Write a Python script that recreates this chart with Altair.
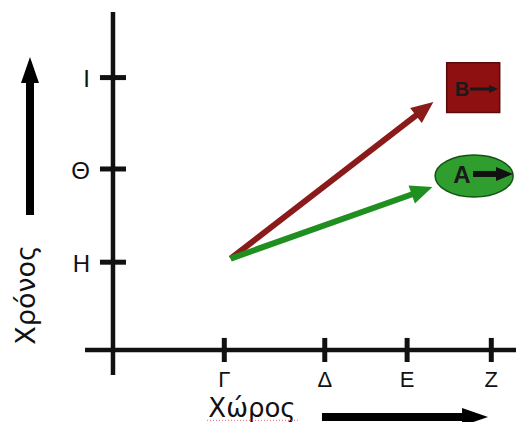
import math
import altair as alt
import pandas as pd

# ---------------- data ----------------
x_tick_labels = ["Γ", "Δ", "Ε", "Ζ"]
x_tick_values = [1.23, 2.34, 3.25, 4.18]
y_tick_labels = ["Η", "Θ", "Ι"]
y_tick_values = [0.97, 2.0, 3.01]

arrow_names = ["B", "A"]
arrow_start_x = [1.30, 1.30]
arrow_start_y = [1.01, 1.01]
arrow_end_x = [3.54, 3.53]
arrow_end_y = [2.74, 1.80]
arrow_colors = ["#8b1a1a", "#1f8f1f"]

marker_x = [3.98, 3.99]
marker_y = [2.90, 1.923]
marker_fill = ["#8e1010", "#2f9e2f"]
marker_stroke = ["#5a0a0a", "#145214"]

x_title = "Χώρος"
y_title = "Χρόνος"

# ---------------- scales ----------------
PX = 90.5  # pixels per data unit
X_DOM = [-1.160, 4.453]
Y_DOM = [-0.796, 3.779]
W, H = 508, 414

xs = alt.Scale(domain=X_DOM, nice=False, zero=False)
ys = alt.Scale(domain=Y_DOM, nice=False, zero=False)


def X(f="x"):
    return alt.X(f"{f}:Q", scale=xs, axis=None)


def Y(f="y"):
    return alt.Y(f"{f}:Q", scale=ys, axis=None)


# ---------------- axis lines and ticks ----------------
axis_df = pd.DataFrame({
    "x": [0.0, -0.309], "y": [-0.276, 0.0],
    "x2": [0.0, X_DOM[1]], "y2": [3.735, 0.0],
})
axes = alt.Chart(axis_df).mark_rule(color="#111111", strokeWidth=4.5, strokeCap="butt").encode(
    x=X(), y=Y(), x2="x2:Q", y2="y2:Q")

xt_df = pd.DataFrame({"x": x_tick_values, "lab": x_tick_labels})
xt_df["y"] = -0.133
xt_df["y2"] = 0.133
xt_df["ly"] = -0.33
x_ticks = alt.Chart(xt_df).mark_rule(color="#111111", strokeWidth=5).encode(
    x=X(), y=Y(), y2="y2:Q")
x_labs = alt.Chart(xt_df).mark_text(fontSize=22, font="Liberation Sans", baseline="middle",
                                    align="center", color="#111111").encode(
    x=X(), y=Y("ly"), text="lab:N")

yt_df = pd.DataFrame({"y": y_tick_values, "lab": y_tick_labels})
yt_df["x"] = -0.144
yt_df["x2"] = 0.144
yt_df["lx"] = -0.254
yt_df["ly"] = yt_df["y"] - 0.03
y_ticks = alt.Chart(yt_df).mark_rule(color="#111111", strokeWidth=5).encode(
    x=X(), x2="x2:Q", y=Y())
y_labs = alt.Chart(yt_df).mark_text(fontSize=24, font="Liberation Sans", baseline="middle",
                                    align="right", color="#111111").encode(
    x=X("lx"), y=Y("ly"), text="lab:N")

# ---------------- arrows ----------------
arrows = pd.DataFrame({
    "x": arrow_start_x + [3.945, 3.978, -0.917, 2.309],
    "y": arrow_start_y + [2.884, 1.945, 1.492, -0.740],
    "x2": arrow_end_x + [4.254, 4.420, -0.917, 4.144],
    "y2": arrow_end_y + [2.884, 1.945, 3.238, -0.740],
    "color": arrow_colors + ["#1a1a1a", "#111111", "#000000", "#000000"],
    "shaft": [6, 6, 3, 6, 8, 8],
    "hl": [22, 22, 9, 17, 26, 26],
    "hw": [19, 19, 8, 14, 18, 18],
})
dx = arrows["x2"] - arrows["x"]
dy = arrows["y2"] - arrows["y"]
length_px = (dx ** 2 + dy ** 2) ** 0.5 * PX
frac = 1 - 0.6 * arrows["hl"] / length_px
arrows["sx2"] = arrows["x"] + dx * frac
arrows["sy2"] = arrows["y"] + dy * frac
arrows["angle"] = [math.degrees(math.atan2(a, b)) for a, b in zip(dx, dy)]
arrows["hsize"] = 4 * arrows["hl"] ** 2
arrows["hshape"] = [f"M0,0 L{-w / 2 / l:.3f},1 L{w / 2 / l:.3f},1 Z"
                    for w, l in zip(arrows["hw"], arrows["hl"])]

shafts = alt.Chart(arrows).mark_rule(strokeCap="butt").encode(
    x=X(), y=Y(), x2="sx2:Q", y2="sy2:Q",
    color=alt.Color("color:N", scale=None),
    strokeWidth=alt.StrokeWidth("shaft:Q", scale=None))

heads = alt.Chart(arrows).mark_point(filled=True, opacity=1).encode(
    x=X("x2"), y=Y("y2"),
    shape=alt.Shape("hshape:N", scale=None),
    size=alt.Size("hsize:Q", scale=None),
    angle=alt.Angle("angle:Q", scale=None),
    color=alt.Color("color:N", scale=None))

# ---------------- markers A and B ----------------
mk = pd.DataFrame({"x": marker_x, "y": marker_y, "fill": marker_fill,
                   "stroke": marker_stroke, "name": arrow_names})
mk["shape"] = ["M-1,-0.94 L1,-0.94 L1,0.94 L-1,0.94 Z",
               "M-1,0 A1,0.54 0 1,1 1,0 A1,0.54 0 1,1 -1,0 Z"]
mk["size"] = [53 ** 2, 78 ** 2]
markers = alt.Chart(mk).mark_point(filled=True, opacity=1, strokeWidth=1.5).encode(
    x=X(), y=Y(),
    shape=alt.Shape("shape:N", scale=None),
    size=alt.Size("size:Q", scale=None),
    fill=alt.Fill("fill:N", scale=None),
    stroke=alt.Stroke("stroke:N", scale=None))

mt = pd.DataFrame({"x": [3.856, 3.856], "y": [2.873, 1.923], "name": arrow_names,
                   "fs": [20, 24]})
marker_text = alt.Chart(mt).mark_text(font="Liberation Sans", fontWeight="bold",
                                      baseline="middle", align="center",
                                      color="#1a1a1a").encode(
    x=X(), y=Y(), text="name:N", size=alt.Size("fs:Q", scale=None))

# ---------------- titles ----------------
titles = pd.DataFrame({"x": [1.536, -0.950], "y": [-0.652, 0.608],
                       "t": [x_title, y_title], "ang": [0, 270],
                       "fs": [26, 27]})
title_text = alt.Chart(titles).mark_text(font="DejaVu Sans", baseline="middle",
                                         align="center", color="#111111").encode(
    x=X(), y=Y(), text="t:N", angle=alt.Angle("ang:Q", scale=None),
    size=alt.Size("fs:Q", scale=None))

ul = pd.DataFrame({"x": [1.039], "x2": [2.066], "y": [-0.778]})
underline = alt.Chart(ul).mark_rule(color="#e05050", strokeWidth=1.2, strokeDash=[1, 2],
                                    opacity=0.7).encode(x=X(), x2="x2:Q", y=Y())

chart = alt.layer(
    axes, x_ticks, y_ticks, x_labs, y_labs,
    markers, marker_text, shafts, heads,
    title_text, underline,
).properties(
    width=W, height=H, padding=0, autosize=alt.AutoSizeParams(type="none"),
    background="white",
).configure_view(stroke=None)

chart.save("out.html", embed_options={"renderer": "svg", "actions": False})
